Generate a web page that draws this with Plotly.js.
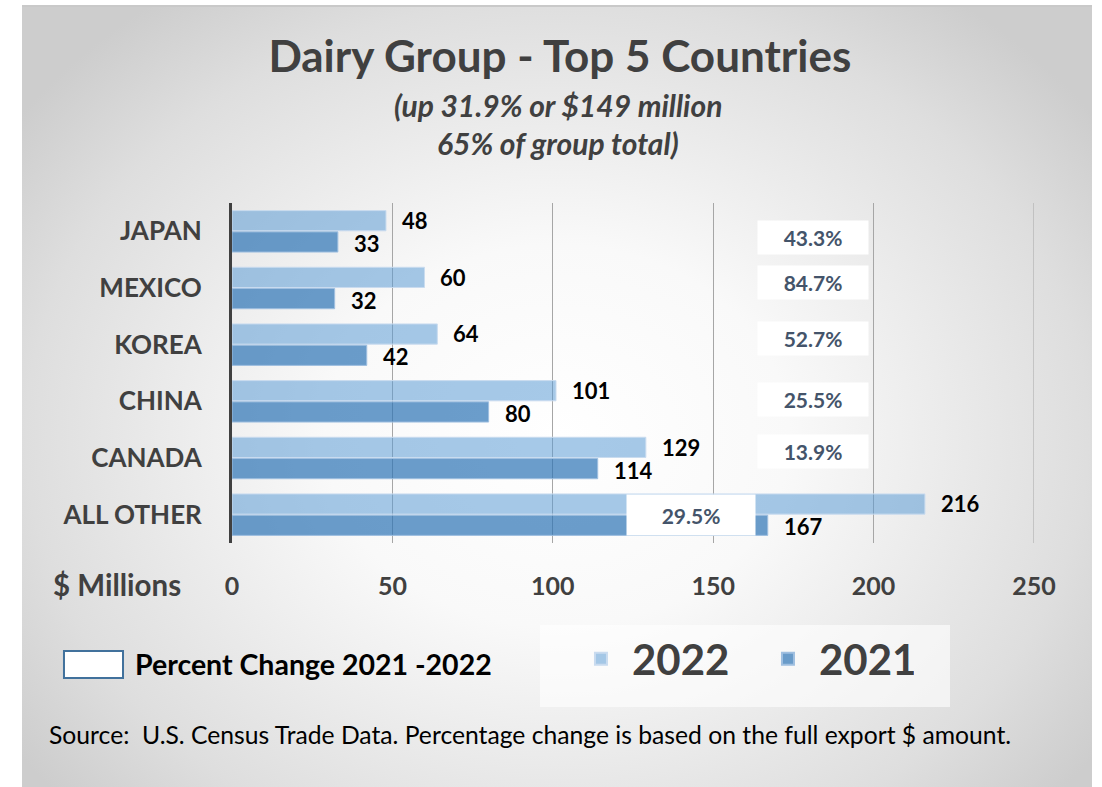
<!DOCTYPE html>
<html>
<head>
<meta charset="utf-8">
<script src="https://cdn.plot.ly/plotly-3.0.1.min.js"></script>
<style>
  html, body { margin: 0; padding: 0; background: #ffffff; }
  #frame {
    position: absolute; left: 22px; top: 5px; width: 1070px; height: 780px;
    background: radial-gradient(ellipse 62% 70% at 50% 55%, #ffffff 0%, #f9f9f9 35%, #dedede 80%, #cdcdcd 100%);
    border-top: 2px solid #c9c9c9;
  }
  #chart { position: absolute; left: 0; top: 0; width: 1102px; height: 787px; }
</style>
</head>
<body>
<div id="frame"></div>
<div id="chart"></div>
<script>
const countries = ['JAPAN', 'MEXICO', 'KOREA', 'CHINA', 'CANADA', 'ALL OTHER'];
const exports2022 = [48, 60, 64, 101, 129, 216];
const exports2021 = [33, 32, 42, 80, 114, 167];
const pctChange = ['43.3%', '84.7%', '52.7%', '25.5%', '13.9%', '29.5%'];
const xTicks = [0, 50, 100, 150, 200, 250];

const FONT = 'Lato, "Open Sans", sans-serif';
const GREY = '#404040';

const traces = [
  {
    type: 'bar', orientation: 'h', name: '2022',
    y: countries, x: exports2022,
    marker: { color: 'rgba(91,155,213,0.54)', line: { color: '#c9dbef', width: 1 } },
    hoverinfo: 'x+y',
  },
  {
    type: 'bar', orientation: 'h', name: '2021',
    y: countries, x: exports2021,
    marker: { color: 'rgba(46,117,182,0.71)', line: { color: '#9fbfe0', width: 1 } },
    hoverinfo: 'x+y',
  },
];

// the percent boxes sit a little off-centre in the original, nudge them (px)
const pctNudge = [-6, 6, 6, 2, 7, 0];

// value labels just past the end of each bar
const annotations = [];
countries.forEach((c, i) => {
  annotations.push({
    x: exports2022[i], y: c, xref: 'x', yref: 'y', text: String(exports2022[i]),
    showarrow: false, xanchor: 'left', yanchor: 'middle', xshift: 14, yshift: 11,
    font: { family: FONT, size: 22, color: '#000000', weight: 700 },
  });
  annotations.push({
    x: exports2021[i], y: c, xref: 'x', yref: 'y', text: String(exports2021[i]),
    showarrow: false, xanchor: 'left', yanchor: 'middle', xshift: 14, yshift: -12,
    font: { family: FONT, size: 22, color: '#000000', weight: 700 },
  });
  // percent change boxes
  const last = i === countries.length - 1;
  annotations.push({
    x: last ? 143 : 181, y: c, xref: 'x', yref: 'y', text: pctChange[i],
    showarrow: false, bgcolor: '#ffffff', width: last ? 126 : 108, height: last ? 38 : 31,
    yshift: pctNudge[i],
    font: { family: FONT, size: 21, color: '#44546A', weight: 700 },
  });
});

annotations.push(
  { xref: 'paper', yref: 'paper', x: 0.4065, y: 1.288, yanchor: 'middle', showarrow: false,
    text: '(up 31.9% or $149 million',
    font: { family: FONT, size: 30, color: GREY, weight: 700, style: 'italic' } },
  { xref: 'paper', yref: 'paper', x: 0.4065, y: 1.176, yanchor: 'middle', showarrow: false,
    text: '65% of group total)',
    font: { family: FONT, size: 30, color: GREY, weight: 700, style: 'italic' } },
  { xref: 'paper', yref: 'paper', x: -0.0612, y: -0.1206, xanchor: 'right', yanchor: 'middle', showarrow: false,
    text: '$ Millions',
    font: { family: FONT, size: 29.5, color: GREY, weight: 700 } },
  { xref: 'paper', yref: 'paper', x: -0.1234, y: -0.356, xanchor: 'left', yanchor: 'middle', showarrow: false,
    text: 'Percent Change 2021 -2022',
    font: { family: FONT, size: 28.5, color: '#000000', weight: 700 } },
  { xref: 'paper', yref: 'paper', x: -0.2307, y: -0.5647, xanchor: 'left', yanchor: 'middle', showarrow: false,
    text: 'Source:  U.S. Census Trade Data. Percentage change is based on the full export $ amount.',
    font: { family: FONT, size: 24.7, color: '#000000' } }
);

const layout = {
  width: 1102, height: 787,
  margin: { l: 232, r: 68, t: 203, b: 244 },
  paper_bgcolor: 'rgba(0,0,0,0)',
  plot_bgcolor: 'rgba(0,0,0,0)',
  font: { family: FONT, color: GREY },
  title: {
    text: 'Dairy Group - Top 5 Countries',
    x: 0.508, xref: 'container', y: 0.928, yref: 'container', yanchor: 'middle',
    font: { family: FONT, size: 44, color: GREY, weight: 700 },
  },
  barmode: 'group', bargap: 0.25, bargroupgap: 0.05,
  xaxis: {
    range: [0, 250], tickvals: xTicks, ticktext: xTicks.map(String),
    showgrid: true, gridcolor: '#a6a6a6', gridwidth: 1, zeroline: false,
    ticks: '', ticklabelstandoff: 26, showline: false,
    tickfont: { family: FONT, size: 25, color: GREY, weight: 700 },
  },
  yaxis: {
    type: 'category', autorange: 'reversed', showgrid: false, zeroline: false,
    showline: true, linecolor: GREY, linewidth: 3, ticks: '', ticklabelstandoff: 22,
    tickfont: { family: FONT, size: 26, color: GREY, weight: 700 },
  },
  showlegend: true,
  legend: {
    orientation: 'h', x: 0.384, y: -0.241, xanchor: 'left', yanchor: 'top',
    bgcolor: 'rgba(0,0,0,0)', borderwidth: 0, itemsizing: 'constant',
    indentation: 30, itemwidth: 52, entrywidth: 90,
    font: { family: FONT, size: 42, color: GREY, weight: 700 },
  },
  shapes: [
    // last gridline at the right edge of the value axis
    { type: 'line', xref: 'x', yref: 'paper', x0: 250, x1: 250, y0: 0, y1: 1,
      layer: 'below', line: { color: '#a6a6a6', width: 1 } },
    // pale panel behind the year legend
    { type: 'rect', xref: 'paper', yref: 'paper', x0: 0.384, x1: 0.8953, y0: -0.241, y1: -0.4824,
      layer: 'below', fillcolor: 'rgba(255,255,255,0.6)', line: { width: 0 } },
    { type: 'rect', xref: 'paper', yref: 'paper', x0: -0.2095, x1: -0.1359, y0: -0.397, y1: -0.3176,
      fillcolor: '#ffffff', line: { color: '#41719C', width: 2 } },
  ],
  annotations: annotations,
};

Plotly.newPlot('chart', traces, layout, { displayModeBar: false, staticPlot: true });
</script>
</body>
</html>
